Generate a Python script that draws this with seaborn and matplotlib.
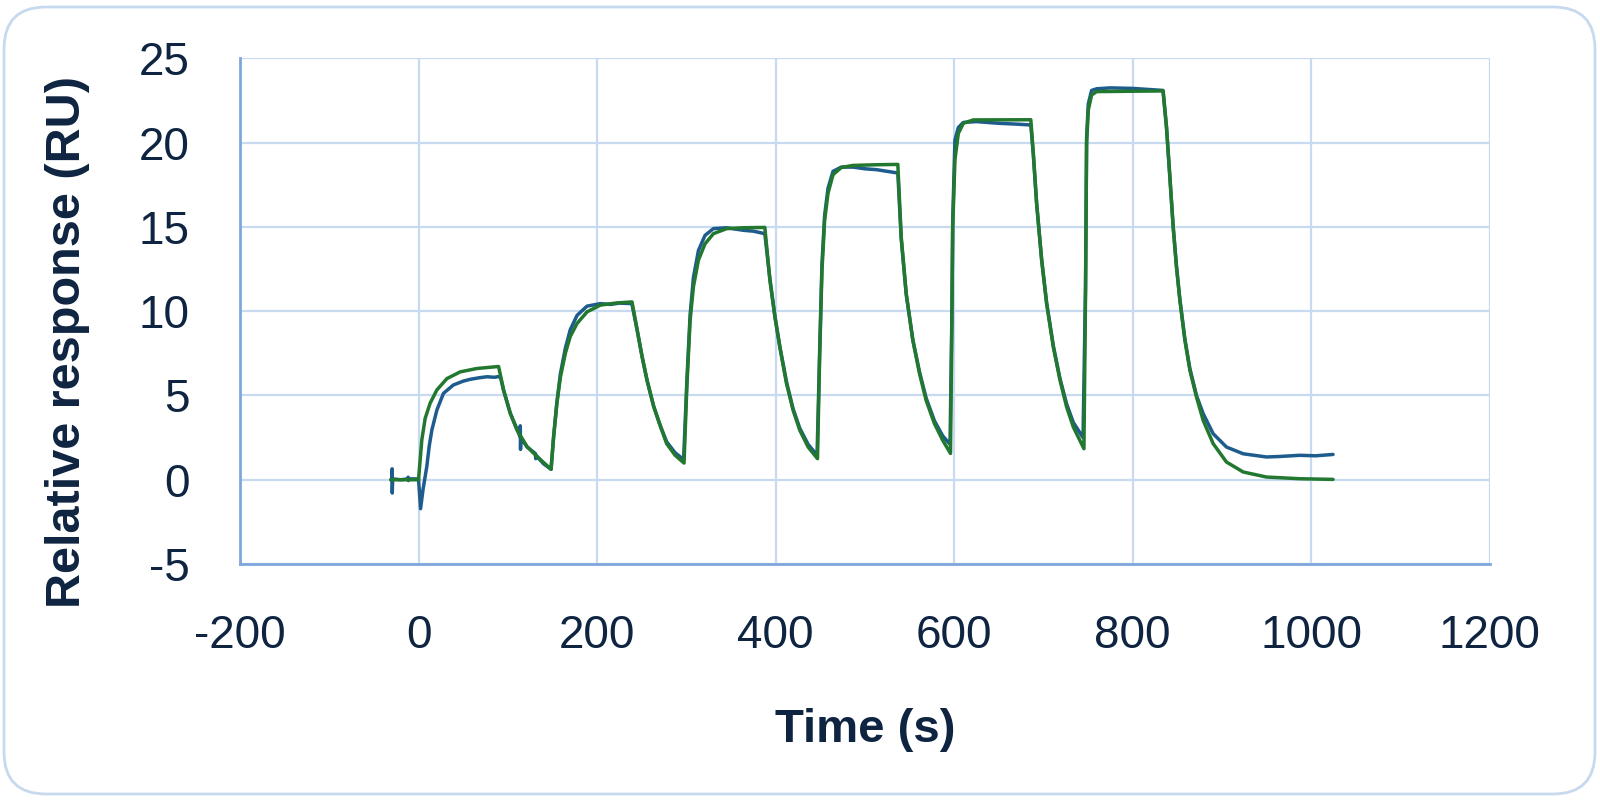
import matplotlib
matplotlib.use("Agg")
import matplotlib.pyplot as plt
from matplotlib.patches import FancyBboxPatch
import seaborn as sns
import pandas as pd

measured_time = [
    -31, -29.8, -29.6, -29.4, -29.0, -20, -11.8, -11.6, -11.4, -11, 0,
    2.3, 5, 9.3, 12, 15, 20.6, 28, 39, 50, 58, 68, 76.6, 85, 89.7,
    92, 95.3, 102.8, 110.3, 113.8, 114.0, 114.3, 114.6, 121.5, 131, 131.3, 131.6,
    140, 148.5, 151.4, 155, 159, 164.5, 170, 177.6, 188.8, 203.7, 215, 225, 239,
    244.9, 250.5, 256, 263.5, 271, 278, 287.5, 297, 300.6, 304.3, 308, 313.6,
    321, 330.4, 345, 364, 375, 388, 393.7, 399.3, 404.8, 412.3, 419.7, 427.2,
    436.5, 446.5, 449.5, 452, 455, 458.8, 464.4, 473.7, 486.8, 500, 512.8, 525,
    537, 540.8, 546.4, 553.8, 561.3, 568.7, 578, 587.3, 595.5, 597.5, 598.5,
    601, 604.8, 610.4, 625, 650, 670, 686, 688.8, 692.5, 698.1, 703.7, 711.2,
    718.7, 726.1, 733.6, 744.5, 747.3, 748.5, 750.4, 754.1, 760, 775, 800, 820,
    834, 838, 841.8, 845.5, 849.2, 853, 858.6, 864.2, 871.6, 879.1, 890.3,
    905.2, 923.9, 950, 965, 987.3, 1005, 1024.6,
]
measured_resp = [
    0.0, 0.0, 0.65, -0.79, 0.05, 0.0, 0.05, 0.15, -0.05, 0.05, 0.05,
    -1.72, -0.6, 0.79, 2.0, 2.96, 4.14, 5.13, 5.62, 5.85, 5.96, 6.05, 6.11, 6.08, 6.12,
    6.05, 5.3, 3.95, 3.0, 2.55, 3.2, 1.8, 2.5, 1.95, 1.55, 1.25, 1.45,
    0.95, 0.62, 2.6, 4.6, 6.3, 7.8, 8.9, 9.75, 10.3, 10.45, 10.4, 10.48, 10.45,
    8.9, 7.3, 5.9, 4.35, 3.2, 2.25, 1.6, 1.2, 5.8, 9.8, 12.0, 13.6,
    14.5, 14.9, 14.95, 14.8, 14.75, 14.6, 11.9, 9.7, 7.9, 5.8, 4.2, 3.05,
    2.1, 1.45, 7.8, 12.8, 15.7, 17.3, 18.3, 18.55, 18.55, 18.45, 18.4, 18.3,
    18.2, 14.3, 11.0, 8.3, 6.4, 4.85, 3.5, 2.6, 2.1, 9.5, 15.4,
    20.16, 20.9, 21.2, 21.25, 21.15, 21.1, 21.05, 19.3, 16.4, 13.1, 10.5, 7.95,
    6.0, 4.5, 3.4, 2.5, 11.5, 20.3, 22.3, 23.1, 23.2, 23.25, 23.22, 23.15,
    23.1, 20.9, 17.95, 15.0, 12.65, 10.7, 8.35, 6.6, 5.0, 3.92, 2.73,
    1.94, 1.54, 1.35, 1.38, 1.45, 1.42, 1.5,
]

# Kinetic fit (green)
fit_time = [
    -31, 0, 3.7, 7.5, 13, 20.6, 31.8, 46.7, 65.4, 89.7,
    95.3, 102.8, 110.3, 121.5, 132.7, 148.5,
    151.4, 155, 159, 164.5, 170, 177.6, 188.8, 203.7, 222, 239.2,
    244.9, 250.5, 256, 263.5, 271, 278, 287.5, 297.5,
    300.6, 304.3, 308, 313.6, 321, 330.4, 345.3, 363.9, 388,
    393.7, 399.3, 404.8, 412.3, 419.7, 427.2, 436.5, 447,
    449.5, 452, 455, 458.8, 464.4, 473.7, 486.8, 512.8, 537,
    540.8, 546.4, 553.8, 561.3, 568.7, 578, 587.3, 596,
    597.5, 598.5, 601, 604.8, 610.4, 621.6, 686,
    688.8, 692.5, 698.1, 703.7, 711.2, 718.7, 726.1, 733.6, 745.5,
    747.3, 748.5, 750.4, 754.1, 759.7, 834.3,
    838, 841.8, 845.5, 849.2, 853, 858.6, 864.2, 871.6, 879.1, 890.3,
    905.2, 923.9, 950, 987.3, 1024.6,
]
fit_resp = [
    0, 0, 2.37, 3.65, 4.54, 5.33, 6.0, 6.4, 6.6, 6.72,
    5.33, 3.94, 2.96, 1.97, 1.38, 0.62,
    2.56, 4.5, 6.1, 7.5, 8.5, 9.27, 9.96, 10.36, 10.49, 10.55,
    8.9, 7.3, 5.92, 4.34, 3.16, 2.14, 1.45, 0.99,
    5.5, 9.47, 11.45, 13.03, 14.0, 14.6, 14.9, 14.95, 14.97,
    11.84, 9.66, 7.88, 5.7, 4.12, 2.93, 1.94, 1.25,
    7.5, 12.4, 15.4, 17.0, 18.1, 18.53, 18.65, 18.69, 18.71,
    14.4, 11.05, 8.28, 6.3, 4.71, 3.33, 2.34, 1.56,
    9.07, 15.0, 19.0, 20.55, 21.15, 21.35, 21.36,
    19.37, 16.4, 13.03, 10.46, 7.88, 5.9, 4.32, 3.13, 1.84,
    11.05, 19.96, 21.94, 22.83, 23.03, 23.07,
    20.95, 17.98, 15.0, 12.63, 10.65, 8.28, 6.5, 4.91, 3.52, 2.14,
    1.05, 0.46, 0.16, 0.06, 0.02,
]

x_ticks = [-200, 0, 200, 400, 600, 800, 1000, 1200]
y_ticks = [-5, 0, 5, 10, 15, 20, 25]

TEXT = "#0e2440"
GRID = "#c8daf0"
SPINE = "#7ea8dc"

sns.set_theme(style="white")
plt.rcParams["font.family"] = ["Liberation Sans", "DejaVu Sans"]
plt.rcParams["axes.unicode_minus"] = False

fig = plt.figure(figsize=(16, 8), dpi=100)

# rounded card behind the chart
bg = fig.add_axes([0, 0, 1, 1], zorder=0)
bg.set_xlim(0, 1600)
bg.set_ylim(0, 800)
bg.axis("off")
bg.add_patch(FancyBboxPatch((4, 6), 1591, 787,
                            boxstyle="round,pad=0,rounding_size=42",
                            facecolor="white", edgecolor="#c6d9ee", linewidth=2))

ax = fig.add_axes([0.15, 0.295, 0.781, 0.632], zorder=1)
ax.set_facecolor("none")

measured = pd.DataFrame({"time": measured_time, "resp": measured_resp})
fit = pd.DataFrame({"time": fit_time, "resp": fit_resp})

line_kw = dict(sort=False, estimator=None, linewidth=2.5,
               solid_joinstyle="round", solid_capstyle="round", ax=ax)
sns.lineplot(data=measured, x="time", y="resp", color="#1d5c8c", **line_kw)
sns.lineplot(data=fit, x="time", y="resp", color="#22782f", **line_kw)

ax.set_xlim(-200, 1200)
ax.set_ylim(-5, 25)
ax.set_xticks(x_ticks)
ax.set_yticks(y_ticks)
ax.grid(True, color=GRID, linewidth=1.6)
ax.set_axisbelow(True)

for side in ["top", "right"]:
    ax.spines[side].set_visible(False)
for side in ["left", "bottom"]:
    ax.spines[side].set_color(SPINE)
    ax.spines[side].set_linewidth(2)

ax.tick_params(axis="both", length=0, labelsize=33, labelcolor=TEXT)
ax.tick_params(axis="x", pad=36)
ax.tick_params(axis="y", pad=36)

ax.set_xlabel("Time (s)", fontsize=34, fontweight="bold", color=TEXT)
ax.set_ylabel("Relative response (RU)", fontsize=35, fontweight="bold", color=TEXT)
ax.xaxis.set_label_coords(0.5, -0.285)
ax.yaxis.set_label_coords(-0.12, 0.44)

fig.savefig("out.png", dpi=100)
plt.close(fig)
